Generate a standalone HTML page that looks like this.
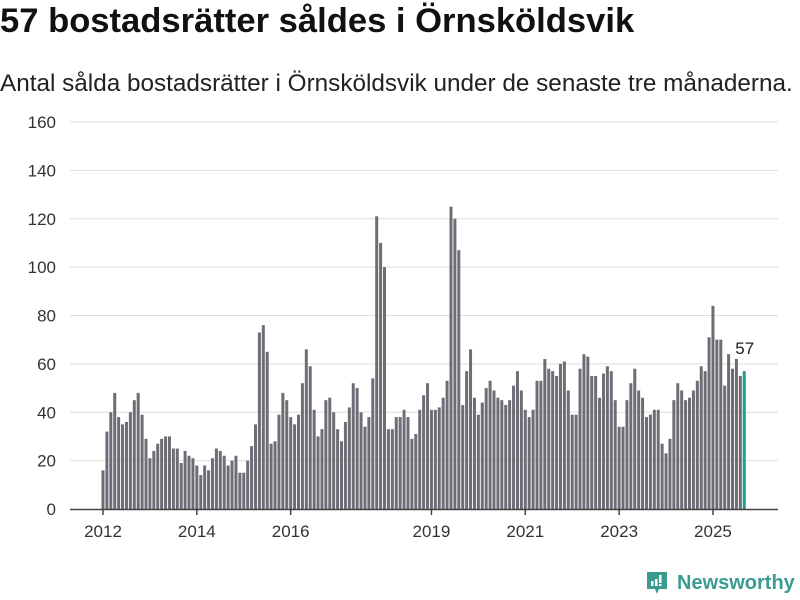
<!DOCTYPE html>
<html><head><meta charset="utf-8">
<style>
body{margin:0;background:#fff;width:800px;height:600px;overflow:hidden;font-family:"Liberation Sans",sans-serif;}
#title{position:absolute;left:0;top:2px;font-size:34.6px;font-weight:bold;color:#111;white-space:nowrap;}
#sub{position:absolute;left:0;top:70px;font-size:24.3px;color:#222;white-space:nowrap;}
svg{position:absolute;left:0;top:0;}
</style></head><body>
<div id="title">57 bostadsrätter såldes i Örnsköldsvik</div>
<div id="sub">Antal sålda bostadsrätter i Örnsköldsvik under de senaste tre månaderna.</div>
<svg id="chart" width="800" height="600"></svg>
<script>
const values=[16,32,40,48,38,35,36,40,45,48,39,29,
21,24,27,29,30,30,25,25,19,24,22,21,
18,14,18,16,21,25,24,22,18,20,22,15,
15,20,26,35,73,76,65,27,28,39,48,45,
38,35,39,52,66,59,41,30,33,45,46,40,
33,28,36,42,52,50,40,34,38,54,121,110,
100,33,33,38,38,41,38,29,31,41,47,52,
41,41,42,46,53,125,120,107,43,57,66,46,
39,44,50,53,49,46,45,43,45,51,57,49,
41,38,41,53,53,62,58,57,55,60,61,49,
39,39,58,64,63,55,55,46,56,59,57,45,
34,34,45,52,58,49,46,38,39,41,41,27,
23,29,45,52,49,45,46,49,53,59,57,71,
84,70,70,51,64,58,62,55,57];
const yTicks=[0,20,40,60,80,100,120,140,160];
const xTickLabels=["2012","2014","2016","2019","2021","2023","2025"];
const xTickIndex=[0,24,48,84,108,132,156];

const NS="http://www.w3.org/2000/svg";
const svg=document.getElementById('chart');
const y0=509, yPer=(509-122)/160;
const yS=v=>y0-v*yPer;
const xS=i=>103+i*3.91;
function mk(t,a){const e=document.createElementNS(NS,t);for(const k in a)e.setAttribute(k,a[k]);svg.appendChild(e);return e;}
yTicks.forEach(t=>{
  if(t>0){const g=mk('line',{x1:70,x2:778,y1:yS(t),y2:yS(t),stroke:'#dedede','stroke-width':1});
  
  }
  const l=mk('text',{x:56,y:yS(t)+6,'text-anchor':'end','font-size':17,fill:'#333','font-family':'Liberation Sans, sans-serif'});
  l.textContent=t;
  
  
});
values.forEach((v,i)=>{
  const last=i===values.length-1;
  const r=mk('rect',{x:xS(i)-1.5,y:yS(v),width:3,height:v*yPer,fill:last?'#1a9e8f':'#6e6d75'});
  
  
});
const ax=mk('line',{x1:70,x2:778,y1:y0+0.5,y2:y0+0.5,stroke:'#444','stroke-width':1.5});


xTickIndex.forEach((idx,k)=>{
  const x=xS(idx);
  const t=mk('line',{x1:x,x2:x,y1:y0,y2:y0+6,stroke:'#444','stroke-width':1.5});
  
  
  const l=mk('text',{x:x,y:537,'text-anchor':'middle','font-size':17,fill:'#333','font-family':'Liberation Sans, sans-serif'});
  l.textContent=xTickLabels[k];
  
  
});
const li=values.length-1;
const vl=mk('text',{x:xS(li)-9,y:yS(values[li])-17,'font-size':17,fill:'#222','font-family':'Liberation Sans, sans-serif'});
vl.textContent=values[li];


</script>
<div style="position:absolute;left:645px;top:570px;height:26px;display:flex;align-items:center;">
<svg width="24" height="26" style="position:static"><path d="M2 2h20v17h-8l-2 5-2-5H2z" fill="#3a9b8f"/><rect x="6" y="11" width="2.5" height="5" fill="#fff"/><rect x="10" y="9" width="2.5" height="7" fill="#fff"/><rect x="14" y="5" width="2.5" height="8" fill="#fff"/><rect x="14" y="14" width="2.5" height="2" fill="#fff"/></svg>
<span style="margin-left:8px;font-size:20px;color:#3a9b8f;font-weight:bold;">Newsworthy</span>
</div>
</body></html>
